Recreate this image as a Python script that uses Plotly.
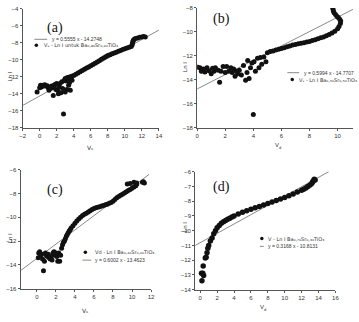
import plotly.graph_objects as go

# ---------------- Panel (a) ----------------
a_x = [-0.3, 0.0, 0.1, 0.2, 0.35, 0.5, 0.6, 0.75, 0.9, 1.0, 1.1, 1.25, 1.4, 1.5, 1.6, 1.7, 1.8, 1.9, 2.0,
       2.1, 2.2, 2.3, 2.4, 2.5, 2.6, 2.7, 2.8, 2.9, 3.0, 3.1, 3.2, 3.3, 3.4, 3.5, 3.6, 3.7, 3.8,
       3.0, 3.25, 3.5, 3.75, 4.0, 4.25, 4.5, 4.75, 5.0, 5.25, 5.5, 5.75, 6.0, 6.25, 6.5, 6.75, 7.0, 7.25,
       7.5, 7.75, 8.0, 8.25, 8.5, 8.75, 9.0, 9.25, 9.5, 9.75, 10.0, 10.25, 10.5, 10.75,
       10.85, 10.9, 10.95, 11.0, 11.1, 11.25, 11.5, 11.75, 12.0, 12.2, 12.4]
a_y = [-13.8, -13.3, -13.0, -13.2, -13.0, -13.1, -12.95, -13.1, -13.05, -13.3, -13.6, -13.4, -13.1, -13.3, -14.2,
       -13.0, -12.9, -13.5, -12.8, -13.6, -14.0, -13.2, -12.8, -13.9, -12.6, -13.4, -16.4, -12.4, -13.8, -12.5,
       -13.5, -12.3, -13.0, -12.7, -13.6, -12.2, -12.4,
       -12.2, -12.1, -12.02, -11.93, -11.85, -11.7, -11.55, -11.4, -11.25, -11.12, -10.98, -10.84, -10.7, -10.55,
       -10.4, -10.25, -10.1, -9.95, -9.8, -9.65, -9.5, -9.4, -9.3, -9.2, -9.1, -9.0, -8.9, -8.8, -8.7, -8.62,
       -8.52, -8.42,
       -8.25, -8.05, -7.85, -7.7, -7.58, -7.5, -7.42, -7.35, -7.3, -7.25, -7.3]
a_fit = (0.5555, -14.2748)
a_fit_range = [-2, 14]

# ---------------- Panel (b) ----------------
b_x = [0.05, 0.2, 0.3, 0.45, 0.55, 0.7, 0.85, 1.0, 1.1, 1.2, 1.3, 1.5, 1.6, 1.7, 1.85, 2.0, 2.1, 2.25, 2.4,
       2.5, 2.6, 2.7, 2.8, 2.9, 3.0, 3.15, 3.3, 3.45, 3.55, 3.6, 3.7, 3.8, 3.9, 4.0, 4.05, 4.15, 4.3, 4.4,
       4.5, 4.6, 4.75, 4.9,
       5.0, 5.2, 5.4, 5.6, 5.8, 6.0, 6.2, 6.4, 6.6, 6.8, 7.0, 7.2, 7.4, 7.6, 7.8, 8.0, 8.2, 8.4, 8.6, 8.8,
       9.0, 9.2, 9.4, 9.6, 9.8, 10.0, 10.1, 10.2, 10.22, 10.15, 10.05, 9.95, 9.85, 9.75, 9.7, 9.67, 9.65]
b_y = [-12.95, -13.0, -13.3, -13.1, -13.35, -13.0, -13.25, -13.5, -13.05, -13.3, -13.0, -13.2, -14.2, -13.3,
       -12.9, -13.4, -12.9, -13.3, -13.0, -13.4, -13.1, -13.7, -13.3, -13.5, -13.2, -13.6, -12.8, -14.05, -13.4,
       -12.4, -13.9, -13.0, -12.6, -16.9, -12.5, -13.3, -12.2, -13.0, -12.15, -12.7, -12.1, -12.5,
       -11.75, -11.65, -11.6, -11.52, -11.45, -11.38, -11.32, -11.25, -11.18, -11.1, -11.05, -11.0, -10.95,
       -10.9, -10.85, -10.8, -10.72, -10.65, -10.58, -10.5, -10.42, -10.32, -10.22, -10.1, -9.95, -9.75,
       -9.55, -9.3, -9.1, -8.95, -8.8, -8.7, -8.55, -8.4, -8.25, -8.1, -7.95]
b_fit = (0.5994, -14.7707)
b_fit_range = [0, 11.2]

# ---------------- Panel (c) ----------------
c_x = [0.15, 0.2, 0.3, 0.4, 0.5, 0.6, 0.7, 0.8, 0.9, 1.0, 1.1, 1.2, 1.3, 1.4, 1.5, 1.6, 1.7, 1.8, 1.9, 2.0,
       2.1, 2.2, 2.3, 2.4, 2.5,
       2.6, 2.7, 2.8, 2.9, 3.0, 3.1, 3.2, 3.3, 3.4, 3.5, 3.6, 3.8, 4.0, 4.2, 4.4, 4.6, 4.8, 5.0, 5.2, 5.4,
       5.6, 5.8, 6.0, 6.2, 6.4, 6.6, 6.8, 7.0, 7.2, 7.4, 7.6, 7.8, 8.0, 8.2, 8.4, 8.6, 8.8, 9.0, 9.2, 9.4,
       9.6, 9.8, 10.0, 10.2, 10.4, 10.5,
       9.5, 9.8, 10.2, 10.5, 11.1, 11.2, 11.3]
c_y = [-13.4, -13.0, -12.9, -13.2, -13.1, -13.5, -14.5, -13.7, -13.0, -13.2, -13.3, -13.1, -13.4, -13.5,
       -13.3, -13.6, -13.0, -12.9, -13.2, -13.0, -13.3, -13.7, -13.0, -13.7, -13.2,
       -12.6, -12.3, -12.1, -12.0, -11.8, -11.6, -11.45, -11.3, -11.15, -11.05, -10.9, -10.7, -10.5, -10.3,
       -10.15, -10.0, -9.85, -9.75, -9.65, -9.55, -9.45, -9.35, -9.25, -9.2, -9.15, -9.1, -9.05, -9.0, -8.95,
       -8.9, -8.82, -8.75, -8.65, -8.5, -8.35, -8.25, -8.15, -8.05, -7.95, -7.85, -7.75, -7.65, -7.55, -7.45,
       -7.35, -7.2,
       -7.2, -7.15, -7.05, -7.1, -7.05, -7.0, -7.1]
c_fit = (0.6002, -13.4623)
c_fit_range = [-1.7, 11.8]

# ---------------- Panel (d) ----------------
d_x = [0.2, 0.15, 0.3, 0.4, 0.35, 0.6, 0.7, 0.8, 0.9, 1.0, 1.2, 1.4, 1.6, 1.8, 2.0, 2.25, 2.5, 2.75, 3.0,
       3.25, 3.5, 3.75, 4.0, 4.5, 5.0, 5.5, 6.0, 6.5, 7.0, 7.5, 8.0, 8.5, 9.0, 9.5, 10.0, 10.5, 11.0, 11.5,
       12.0, 12.25, 12.5, 12.75, 13.0, 13.2, 13.3, 13.4, 13.5, 13.6]
d_y = [-13.4, -12.9, -12.9, -13.05, -12.4, -11.85, -11.8, -11.5, -11.2, -11.0, -10.7, -10.5, -10.2, -10.0,
       -9.8, -9.65, -9.5, -9.4, -9.3, -9.22, -9.15, -9.07, -9.0, -8.87, -8.75, -8.65, -8.55, -8.45, -8.35,
       -8.25, -8.15, -8.05, -7.95, -7.85, -7.75, -7.62, -7.5, -7.38, -7.25, -7.18, -7.1, -7.0, -6.9, -6.8,
       -6.7, -6.6, -6.5, -6.55]
d_fit = (0.3168, -10.8131)
d_fit_range = [-0.6, 15.3]

panels = [
    dict(x=a_x, y=a_y, fit=a_fit, fr=a_fit_range, xr=[-2, 14], yr=[-18, -4], xd=[20/359, 159/359],
         yd=[1-127/322, 1-6/322], xt=list(range(-2, 15, 2)), yt=list(range(-18, -3, 2)), ms=5),
    dict(x=b_x, y=b_y, fit=b_fit, fr=b_fit_range, xr=[0, 11.1], yr=[-18, -8], xd=[198/359, 357/359],
         yd=[1-127/322, 1-5/322], xt=list(range(0, 11, 2)), yt=list(range(-18, -7, 2)), ms=5),
    dict(x=c_x, y=c_y, fit=c_fit, fr=c_fit_range, xr=[-1.7, 12], yr=[-16, -6], xd=[18/359, 151/359],
         yd=[1-291/322, 1-170/322], xt=list(range(0, 13, 2)), yt=list(range(-16, -5, 2)), ms=5),
    dict(x=d_x, y=d_y, fit=d_fit, fr=d_fit_range, xr=[-0.6, 16], yr=[-14, -6], xd=[196/359, 339/359],
         yd=[1-292/322, 1-172/322], xt=list(range(0, 17, 2)), yt=list(range(-14, -5, 1)), ms=5.5),
]

fig = go.Figure()
layout = {}
tickfont = dict(family="Liberation Sans, Arial", size=6, color="#333")
for i, p in enumerate(panels, start=1):
    sx = "" if i == 1 else str(i)
    m, c = p["fit"]
    fx = p["fr"]
    fig.add_trace(go.Scatter(x=fx, y=[m * v + c for v in fx], mode="lines",
                             line=dict(color="#8a8a8a", width=1), xaxis="x" + sx, yaxis="y" + sx,
                             showlegend=False, hoverinfo="skip"))
    fig.add_trace(go.Scatter(x=p["x"], y=p["y"], mode="markers",
                             marker=dict(color="#111", size=p["ms"], line=dict(width=0)),
                             xaxis="x" + sx, yaxis="y" + sx, showlegend=False))
    layout["xaxis" + sx] = dict(domain=p["xd"], range=p["xr"], anchor="y" + sx, tickvals=p["xt"],
                                showgrid=False, zeroline=False, showline=True, linecolor="#555",
                                linewidth=1, ticks="outside", ticklen=2, tickcolor="#555",
                                tickfont=tickfont)
    layout["yaxis" + sx] = dict(domain=p["yd"], range=p["yr"], anchor="x" + sx, tickvals=p["yt"],
                                showgrid=False, zeroline=False, showline=True, linecolor="#555",
                                linewidth=1, ticks="outside", ticklen=2, tickcolor="#555",
                                tickfont=tickfont)

fig.update_layout(**layout)

ann = []
def txt(x, y, s, size=5, xanchor="left", angle=0, family="Liberation Sans, DejaVu Sans", color="#333"):
    ann.append(dict(x=x / 359, y=1 - y / 322, xref="paper", yref="paper", text=s, showarrow=False,
                    xanchor=xanchor, yanchor="middle", textangle=angle,
                    font=dict(family=family, size=size, color=color)))

serif = "Liberation Serif, Times New Roman"
txt(53, 25, "(a)", 14, "center", family=serif, color="#111")
txt(223, 16, "(b)", 14, "center", family=serif, color="#111")
txt(53, 191, "(c)", 14, "center", family=serif, color="#111")
txt(223, 188, "(d)", 14, "center", family=serif, color="#111")

txt(7, 75, "Ln I", 6, "center", angle=-90)
txt(185, 65, "Ln I", 6, "center", angle=-90)
txt(7, 240, "Ln I", 6, "center", angle=-90)
txt(185, 228, "Ln I", 6, "center", angle=-90)
txt(89, 147, "V\u209b", 6, "center", family="DejaVu Sans")
txt(279, 145, "V", 6, "center")
txt(282.5, 147, "d", 4, "center")
txt(84, 313, "V\u209b", 6, "center", family="DejaVu Sans")
txt(264, 310, "V", 6, "center")
txt(267.5, 312, "d", 4, "center")

# legends
sub = str.maketrans("0123456789s", "\u2080\u2081\u2082\u2083\u2084\u2085\u2086\u2087\u2088\u2089\u209b")
def S(t):
    return t.translate(sub)
txt(48, 37, "y = 0.5555 x - 14.2748", 5)
txt(40, 43, "V" + S("s") + " - Ln I untuk Ba" + S("0") + "," + S("80") + "Sr" + S("0") + "," + S("20") + "TiO" + S("3"), 5,
    family="DejaVu Sans")
txt(305, 71, "y = 0.5994 x - 14.7707", 5)
txt(300, 78, "V" + S("s") + " - Ln I Ba" + S("0") + "," + S("50") + "Sr" + S("0") + "," + S("50") + "TiO" + S("3"), 5,
    family="DejaVu Sans")
txt(92, 254, "Vd - Ln I Ba" + S("0") + "," + S("40") + "Sr" + S("0") + "," + S("60") + "TiO" + S("3"), 5,
    family="DejaVu Sans")
txt(92, 262, "y = 0.6002 x - 13.4623", 5)
txt(268, 240, "V - Ln I Ba" + S("0") + "," + S("70") + "Sr" + S("0") + "," + S("30") + "TiO" + S("3"), 5,
    family="DejaVu Sans")
txt(268, 248, "y = 0.3168 x - 10.8131", 5)

shapes = []
def seg(x0, x1, y):
    shapes.append(dict(type="line", xref="paper", yref="paper", x0=x0 / 359, x1=x1 / 359,
                       y0=1 - y / 322, y1=1 - y / 322, line=dict(color="#8a8a8a", width=1)))
def dot(x, y, r=1.8):
    shapes.append(dict(type="circle", xref="paper", yref="paper", x0=(x - r) / 359, x1=(x + r) / 359,
                       y0=1 - (y + r) / 322, y1=1 - (y - r) / 322, fillcolor="#111",
                       line=dict(width=0)))
seg(32, 45, 37); dot(34, 43)
seg(290, 302, 71); dot(295, 78)
seg(81, 90, 262); dot(84, 254)
seg(262, 266, 248); dot(264, 240)

fig.update_layout(annotations=ann, shapes=shapes, width=359, height=322,
                  margin=dict(l=0, r=0, t=0, b=0), paper_bgcolor="white", plot_bgcolor="white")
fig.write_html("out.html")
